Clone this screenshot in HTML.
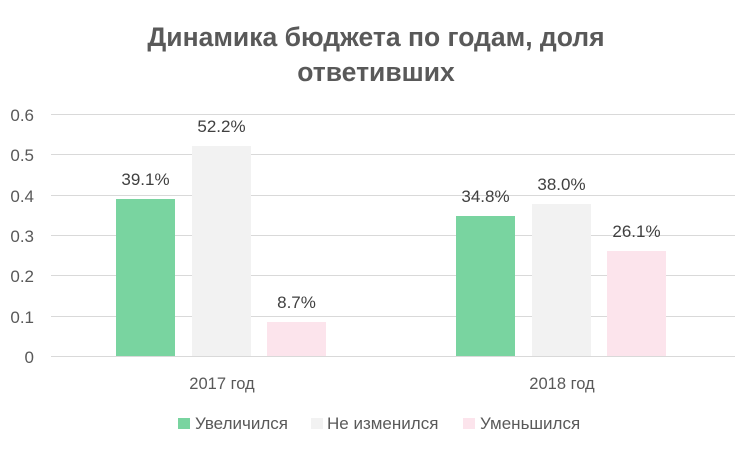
<!DOCTYPE html>
<html><head><meta charset="utf-8"><style>
body{margin:0;background:#fff;}
svg text{font-family:"Liberation Sans","DejaVu Sans",sans-serif;}
</style></head><body>
<svg width="750" height="450" viewBox="0 0 750 450" xmlns="http://www.w3.org/2000/svg">
<rect width="750" height="450" fill="#fff"/>
<text x="376" y="46" text-anchor="middle" font-size="26.5" font-weight="bold" fill="#595959">Динамика бюджета по годам, доля</text>
<text x="376" y="81" text-anchor="middle" font-size="26.5" font-weight="bold" fill="#595959">ответивших</text>
<g stroke="#d9d9d9" stroke-width="1">
<line x1="51" x2="735" y1="114.5" y2="114.5"/>
<line x1="51" x2="735" y1="154.5" y2="154.5"/>
<line x1="51" x2="735" y1="195.5" y2="195.5"/>
<line x1="51" x2="735" y1="235.5" y2="235.5"/>
<line x1="51" x2="735" y1="275.5" y2="275.5"/>
<line x1="51" x2="735" y1="316.5" y2="316.5"/>
<line x1="51" x2="735" y1="356.5" y2="356.5"/>
</g>
<g font-size="17" fill="#595959" text-anchor="end">
<text x="34" y="121">0.6</text><text x="34" y="161">0.5</text><text x="34" y="202">0.4</text>
<text x="34" y="242">0.3</text><text x="34" y="282">0.2</text><text x="34" y="323">0.1</text><text x="34" y="363">0</text>
</g>
<rect x="116" y="199" width="59" height="157" fill="#79d4a0"/>
<rect x="192" y="146" width="59" height="210" fill="#f2f2f2"/>
<rect x="267" y="322" width="59" height="34" fill="#fce4ec"/>
<rect x="456" y="216" width="59" height="140" fill="#79d4a0"/>
<rect x="532" y="204" width="59" height="152" fill="#f2f2f2"/>
<rect x="607" y="251" width="59" height="105" fill="#fce4ec"/>
<g font-size="17" fill="#404040" text-anchor="middle">
<text x="145.5" y="185">39.1%</text><text x="221.5" y="132">52.2%</text><text x="296.5" y="308">8.7%</text>
<text x="485.5" y="202">34.8%</text><text x="561.5" y="190">38.0%</text><text x="636.5" y="237">26.1%</text>
</g>
<g font-size="16.5" fill="#595959" text-anchor="middle">
<text x="222" y="389">2017 год</text><text x="562" y="389">2018 год</text>
</g>
<rect x="178" y="418" width="12" height="11" fill="#79d4a0"/>
<text x="195" y="429" font-size="17" fill="#595959">Увеличился</text>
<rect x="311" y="418" width="12" height="11" fill="#f2f2f2"/>
<text x="327" y="429" font-size="17" fill="#595959">Не изменился</text>
<rect x="463" y="418" width="12" height="11" fill="#fce4ec"/>
<text x="480" y="429" font-size="17" fill="#595959">Уменьшился</text>
</svg>
</body></html>
